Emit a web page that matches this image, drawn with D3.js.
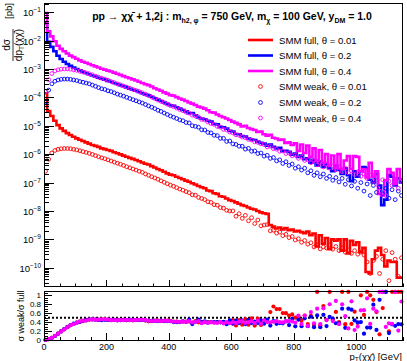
<!DOCTYPE html>
<html>
<head>
<meta charset="utf-8">
<script src="https://cdn.jsdelivr.net/npm/d3@7"></script>
<style>
body { margin: 0; background: #fff; }
svg text { font-family: "Liberation Sans", Arial, Helvetica, sans-serif; fill: #000; }
</style>
</head>
<body>
<svg id="chart" width="407" height="361"></svg>
<script>
// bins of 10 GeV from 0 to 1150 GeV
var binLow = d3.range(0, 1150, 10);
var binWidth = 10;

// dsigma/dpT [pb], SMM full (step histograms)
var fullT001 = [1.4e-4,3.3e-5,2.2e-5,1.5e-5,1.05e-5,8.1e-6,6.6e-6,5.5e-6,4.7e-6,4.1e-6,
  3.6e-6,3.2e-6,2.9e-6,2.6e-6,2.34e-6,2.1e-6,1.95e-6,1.8e-6,1.6e-6,1.5e-6,
  1.4e-6,1.3e-6,1.17e-6,1.07e-6,9.8e-7,8.9e-7,8.1e-7,7.4e-7,6.8e-7,6.2e-7,
  5.6e-7,5.1e-7,4.6e-7,4.3e-7,3.8e-7,3.4e-7,3.0e-7,2.7e-7,2.4e-7,2.1e-7,
  1.9e-7,1.8e-7,1.6e-7,1.45e-7,1.3e-7,1.17e-7,1.07e-7,9.5e-8,8.5e-8,7.6e-8,
  6.8e-8,6.3e-8,5.25e-8,5.0e-8,4.2e-8,4.0e-8,3.3e-8,3.16e-8,2.75e-8,2.4e-8,
  2.24e-8,2.0e-8,1.8e-8,1.6e-8,1.5e-8,1.32e-8,1.2e-8,1.12e-8,1.0e-8,8.9e-9,
  8.3e-9,7.9e-9,3.2e-9,2.8e-9,2.4e-9,2.6e-9,2.24e-9,2.5e-9,2.1e-9,2.2e-9,
  1.9e-9,2.0e-9,1.8e-9,1.66e-9,1.9e-9,1.4e-9,1.6e-9,5.6e-10,1.4e-9,7.1e-10,
  1.12e-9,4.5e-10,1.0e-9,8.9e-10,1.0e-9,4.0e-10,1.0e-9,3.2e-10,8.9e-10,6.3e-10,
  7.9e-10,3.55e-10,5.0e-10,7.1e-11,6.3e-11,2.0e-10,4.0e-10,5.0e-10,2.8e-10,1.12e-10,
  1.8e-10,1.6e-10,1.6e-10,4.5e-11,4.5e-11];

var fullT02 = [4.1e-2,9.1e-3,6.0e-3,4.2e-3,2.9e-3,2.24e-3,1.8e-3,1.5e-3,1.3e-3,1.12e-3,
  1.0e-3,8.9e-4,7.9e-4,7.2e-4,6.5e-4,5.9e-4,5.4e-4,4.9e-4,4.5e-4,4.2e-4,
  3.8e-4,3.55e-4,3.2e-4,2.95e-4,2.7e-4,2.45e-4,2.24e-4,2.0e-4,1.86e-4,1.7e-4,
  1.55e-4,1.4e-4,1.26e-4,1.17e-4,1.05e-4,9.3e-5,8.3e-5,7.4e-5,6.6e-5,5.9e-5,
  5.25e-5,5.0e-5,4.5e-5,4.0e-5,3.6e-5,3.2e-5,2.75e-5,2.8e-5,2.34e-5,1.95e-5,
  1.8e-5,1.7e-5,1.5e-5,1.4e-5,1.15e-5,1.12e-5,9.1e-6,8.9e-6,7.9e-6,6.6e-6,
  6.3e-6,5.1e-6,5.0e-6,4.3e-6,4.2e-6,3.55e-6,3.3e-6,3.16e-6,2.75e-6,2.5e-6,
  2.34e-6,2.0e-6,2.2e-6,1.8e-6,1.6e-6,1.66e-6,1.26e-6,1.3e-6,1.2e-6,9.5e-7,
  1.05e-6,7.9e-7,8.9e-7,6.6e-7,7.1e-7,5.0e-7,6.3e-7,4.0e-7,5.6e-7,3.55e-7,
  4.5e-7,3.2e-7,2.5e-7,4.0e-7,2.8e-7,2.0e-7,3.2e-7,1.8e-7,1.12e-7,2.5e-7,
  1.6e-7,2.5e-7,3.55e-7,3.2e-7,1.26e-7,1.0e-7,2.0e-7,7.9e-8,1.6e-8,2.5e-8,
  1.8e-7,1.6e-7,7.9e-8,1.4e-7,1.0e-7];

var fullT04 = [9.3e-2,2.1e-2,1.4e-2,9.5e-3,6.6e-3,5.1e-3,4.2e-3,3.5e-3,2.95e-3,2.6e-3,
  2.3e-3,2.0e-3,1.8e-3,1.66e-3,1.5e-3,1.35e-3,1.23e-3,1.12e-3,1.02e-3,9.5e-4,
  8.7e-4,8.1e-4,7.4e-4,6.8e-4,6.2e-4,5.6e-4,5.1e-4,4.7e-4,4.3e-4,3.9e-4,
  3.55e-4,3.2e-4,2.9e-4,2.7e-4,2.4e-4,2.1e-4,1.9e-4,1.7e-4,1.5e-4,1.35e-4,
  1.2e-4,1.15e-4,1.02e-4,9.1e-5,8.3e-5,7.4e-5,6.6e-5,6.0e-5,5.4e-5,4.7e-5,
  4.4e-5,4.0e-5,3.5e-5,3.0e-5,2.9e-5,2.5e-5,2.2e-5,2.0e-5,1.8e-5,1.6e-5,
  1.4e-5,1.26e-5,1.12e-5,9.5e-6,1.0e-5,8.3e-6,7.6e-6,7.1e-6,6.0e-6,6.3e-6,
  5.0e-6,4.5e-6,4.8e-6,3.8e-6,3.55e-6,3.16e-6,3.3e-6,2.5e-6,2.6e-6,2.1e-6,
  2.4e-6,1.3e-6,2.2e-6,1.1e-6,2.0e-6,8.0e-7,1.6e-6,6.0e-7,1.4e-6,5.0e-7,
  1.0e-6,4.0e-7,9.0e-7,3.2e-7,1.0e-6,3.0e-7,6.0e-7,8.5e-7,3.0e-7,8.5e-7,
  8.0e-7,2.5e-7,3.0e-7,1.5e-7,5.0e-7,1.6e-7,2.5e-7,4.0e-8,3.5e-8,1.2e-7,
  3.0e-7,2.2e-7,9.0e-8,3.0e-7,1.3e-7];

// dsigma/dpT [pb], SMM weak (open markers)
var weakT001 = [2.5e-7,6.6e-7,1.1e-6,1.35e-6,1.48e-6,1.55e-6,1.58e-6,1.58e-6,1.55e-6,1.48e-6,
  1.41e-6,1.32e-6,1.23e-6,1.15e-6,1.07e-6,9.8e-7,8.9e-7,8.1e-7,7.4e-7,6.9e-7,
  6.3e-7,5.75e-7,5.25e-7,4.8e-7,4.4e-7,4.0e-7,3.6e-7,3.3e-7,3.0e-7,2.75e-7,
  2.5e-7,2.3e-7,2.0e-7,1.8e-7,1.6e-7,1.45e-7,1.3e-7,1.15e-7,1.02e-7,9.1e-8,
  8.1e-8,7.4e-8,6.6e-8,5.9e-8,5.4e-8,4.8e-8,4.4e-8,3.7e-8,3.6e-8,3.0e-8,
  2.75e-8,2.5e-8,2.1e-8,2.0e-8,1.66e-8,1.6e-8,1.32e-8,1.26e-8,1.05e-8,1.0e-8,
  1.0e-8,6.5e-9,8.0e-9,5.5e-9,7.0e-9,4.5e-9,5.8e-9,3.6e-9,4.8e-9,3.0e-9,
  3.2e-9,3.3e-9,2.0e-9,2.1e-9,1.66e-9,1.8e-9,1.35e-9,1.5e-9,1.15e-9,1.26e-9,
  9.5e-10,1.05e-9,7.9e-10,9.1e-10,6.8e-10,7.6e-10,5.4e-10,6.3e-10,4.6e-10,5.4e-10,
  5.0e-10,6.3e-10,4.5e-10,5.6e-10,4.0e-10,5.0e-10,3.55e-10,4.2e-10,3.2e-10,4.0e-10,
  3.0e-10,3.55e-10,2.8e-10,1.6e-10,6.3e-11,1.8e-10,2.5e-10,6.3e-11,2.0e-10,4.0e-10,
  3.5e-11,3.4e-10,2.0e-10,5.0e-11,2.24e-10];

var weakT02 = [6.9e-5,1.8e-4,3.0e-4,3.7e-4,4.1e-4,4.3e-4,4.4e-4,4.4e-4,4.3e-4,4.1e-4,
  3.9e-4,3.6e-4,3.4e-4,3.2e-4,3.0e-4,2.7e-4,2.45e-4,2.2e-4,2.0e-4,1.9e-4,
  1.7e-4,1.6e-4,1.45e-4,1.3e-4,1.2e-4,1.1e-4,1.0e-4,9.1e-5,8.3e-5,7.6e-5,
  6.9e-5,6.3e-5,5.6e-5,5.0e-5,4.5e-5,4.0e-5,3.5e-5,3.2e-5,2.8e-5,2.5e-5,
  2.2e-5,2.0e-5,1.8e-5,1.6e-5,1.5e-5,1.3e-5,1.26e-5,1.0e-5,9.5e-6,8.9e-6,
  7.2e-6,7.1e-6,5.8e-6,5.6e-6,4.6e-6,4.5e-6,3.6e-6,3.6e-6,2.8e-6,2.9e-6,
  2.3e-6,2.2e-6,1.9e-6,1.9e-6,1.5e-6,1.6e-6,1.26e-6,1.3e-6,1.05e-6,1.1e-6,
  8.5e-7,9.1e-7,7.1e-7,7.6e-7,5.8e-7,6.3e-7,4.7e-7,5.4e-7,4.0e-7,4.5e-7,
  3.2e-7,3.6e-7,2.75e-7,3.2e-7,2.2e-7,2.6e-7,1.8e-7,2.2e-7,1.6e-7,2.0e-7,
  1.4e-7,1.66e-7,1.2e-7,1.5e-7,1.05e-7,1.4e-7,8.7e-8,1.26e-7,7.6e-8,1.1e-7,
  6.3e-8,1.0e-7,5.0e-8,8.9e-8,3.5e-8,7.9e-8,4.5e-8,7.1e-8,4.0e-8,6.3e-8,
  2.8e-8,5.6e-8,2.5e-8,5.0e-8,3.5e-8];

var weakT04 = [1.6e-4,4.2e-4,6.9e-4,8.5e-4,9.3e-4,9.8e-4,1.0e-3,1.0e-3,9.8e-4,9.3e-4,
  8.9e-4,8.3e-4,7.8e-4,7.2e-4,6.8e-4,6.2e-4,5.6e-4,5.1e-4,4.7e-4,4.4e-4,
  4.0e-4,3.6e-4,3.3e-4,3.0e-4,2.75e-4,2.5e-4,2.3e-4,2.1e-4,1.9e-4,1.75e-4,
  1.6e-4,1.45e-4,1.3e-4,1.15e-4,1.02e-4,9.1e-5,8.1e-5,7.2e-5,6.5e-5,5.75e-5,
  5.1e-5,4.7e-5,4.2e-5,3.7e-5,3.4e-5,3.0e-5,2.8e-5,2.35e-5,2.2e-5,2.0e-5,
  1.66e-5,1.6e-5,1.35e-5,1.2e-5,1.12e-5,9.5e-6,8.9e-6,7.4e-6,7.2e-6,6.0e-6,
  5.6e-6,4.8e-6,4.6e-6,4.0e-6,3.8e-6,3.3e-6,3.16e-6,2.7e-6,2.6e-6,2.3e-6,
  2.2e-6,1.8e-6,1.9e-6,1.55e-6,1.5e-6,1.26e-6,1.3e-6,1.05e-6,1.1e-6,8.7e-7,
  9.3e-7,7.1e-7,7.9e-7,6.0e-7,6.3e-7,5.0e-7,6.0e-7,4.2e-7,5.0e-7,3.55e-7,
  4.5e-7,3.2e-7,3.8e-7,2.8e-7,3.55e-7,2.4e-7,3.2e-7,2.2e-7,2.6e-7,1.9e-7,
  2.4e-7,1.66e-7,2.0e-7,1.4e-7,1.8e-7,1.12e-7,1.6e-7,5.0e-8,1.26e-7,3.5e-8,
  1.12e-7,7.9e-8,1.26e-7,6.3e-8,1.12e-7];

var seriesNames = ["0.01", "0.2", "0.4"];
var seriesColors = ["#ff0000", "#0000ff", "#ff00ff"];
var xTicks = [0, 200, 400, 600, 800, 1000];
var ratioTicks = [0, 0.2, 0.4, 0.6, 0.8, 1];

var series = [
  { theta: seriesNames[0], color: seriesColors[0], full: fullT001, weak: weakT001 },
  { theta: seriesNames[1], color: seriesColors[1], full: fullT02, weak: weakT02 },
  { theta: seriesNames[2], color: seriesColors[2], full: fullT04, weak: weakT04 }
];

var svg = d3.select("#chart");
svg.append("rect").attr("width", 407).attr("height", 361).attr("fill", "#fff");

// pad geometry
var left = 44, right = 403;
var upTop = 3, upBot = 287;
var loTop = 291, loBot = 341;

var x = d3.scaleLinear().domain([0, 1150]).range([left, right]);
var y = d3.scaleLog().domain([2.1e-11, 0.21]).range([upBot, upTop]);
var yr = d3.scaleLinear().domain([-0.023, 1.097]).range([loBot, loTop]);

var defs = svg.append("defs");
defs.append("clipPath").attr("id", "clipUp")
  .append("rect").attr("x", left).attr("y", upTop).attr("width", right - left).attr("height", upBot - upTop);

// ---------- upper pad ----------
var up = svg.append("g");

// full: step histograms
var line = d3.line()
  .x(function(d){ return x(d[0]); })
  .y(function(d){ return y(d[1]); })
  .curve(d3.curveStepAfter);

var plot = up.append("g").attr("clip-path", "url(#clipUp)");
series.forEach(function(s){
  var pts = s.full.map(function(v, i){ return [binLow[i], v]; });
  pts.push([binLow[binLow.length - 1] + binWidth, s.full[s.full.length - 1]]);
  plot.append("path")
    .attr("d", line(pts))
    .attr("fill", "none")
    .attr("stroke", s.color)
    .attr("stroke-width", 2.6);
});

// weak: open circles
series.forEach(function(s){
  plot.selectAll(null)
    .data(s.weak)
    .enter()
    .append("circle")
      .attr("cx", function(d, i){ return x(binLow[i] + binWidth / 2); })
      .attr("cy", function(d){ return y(d); })
      .attr("r", 1.9)
      .attr("fill", "none")
      .attr("stroke", s.color)
      .attr("stroke-width", 0.9);
});

// frame
up.append("rect")
  .attr("x", left + 0.5).attr("y", upTop + 0.5)
  .attr("width", right - left - 1).attr("height", upBot - upTop - 1)
  .attr("fill", "none").attr("stroke", "#000").attr("stroke-width", 1);

// log y ticks
var ticksUp = up.append("g").attr("stroke", "#000").attr("stroke-width", 1);
for (var e = -11; e <= -1; e++) {
  for (var m = 1; m <= 9; m++) {
    var v = m * Math.pow(10, e);
    if (v < y.domain()[0] || v > y.domain()[1]) continue;
    var yy = Math.round(y(v)) + 0.5;
    ticksUp.append("line")
      .attr("x1", left).attr("x2", left + (m === 1 ? 10 : 5))
      .attr("y1", yy).attr("y2", yy);
  }
}
var decades = d3.range(-10, 0);
decades.forEach(function(e){
  var t = up.append("text")
    .attr("x", 41).attr("y", y(Math.pow(10, e)) + 4)
    .attr("text-anchor", "end")
    .style("font-size", "9.5px");
  t.append("tspan").text("10");
  t.append("tspan").attr("dy", -4).style("font-size", "6.5px").text("\u2212" + (-e));
});

// x ticks on upper pad (no labels)
d3.range(0, 1151, 50).forEach(function(v){
  var xx = Math.round(x(v)) + 0.5;
  ticksUp.append("line")
    .attr("x1", xx).attr("x2", xx)
    .attr("y1", upBot).attr("y2", upBot - (v % 200 === 0 ? 7 : 3.5));
});

// title
var title = up.append("text")
  .attr("x", 232).attr("y", 20)
  .attr("text-anchor", "middle")
  .style("font-size", "10.5px").style("font-weight", "bold");
title.append("tspan").text("pp \u2192 \u03c7\u03c7\u0304 + 1,2j : m");
title.append("tspan").attr("dy", 2.5).style("font-size", "7px").text("h2, \u03c6");
title.append("tspan").attr("dy", -2.5).text(" = 750 GeV, m");
title.append("tspan").attr("dy", 2.5).style("font-size", "7px").text("\u03c7");
title.append("tspan").attr("dy", -2.5).text(" = 100 GeV, y");
title.append("tspan").attr("dy", 2.5).style("font-size", "7px").text("DM");
title.append("tspan").attr("dy", -2.5).text(" = 1.0");

// y title
var yt = up.append("g").attr("transform", "translate(13,45) rotate(-90)");
yt.append("text").attr("x", 0).attr("y", -3).attr("text-anchor", "middle")
  .style("font-size", "10px").text("d\u03c3");
yt.append("line").attr("x1", -16).attr("x2", 16).attr("y1", 0).attr("y2", 0)
  .attr("stroke", "#000").attr("stroke-width", 0.8);
var den = yt.append("text").attr("x", 0).attr("y", 9).attr("text-anchor", "middle")
  .style("font-size", "10px");
den.append("tspan").text("dp");
den.append("tspan").attr("dy", 2).style("font-size", "6.5px").text("T");
den.append("tspan").attr("dy", -2).text("(\u03c7\u03c7\u0304)");
up.append("text").attr("transform", "translate(12,11) rotate(-90)")
  .attr("text-anchor", "middle").style("font-size", "9.5px").text("[pb]");

// legend
var leg = up.append("g");
var legRows = [40, 55.5, 71, 86.5, 102.5, 118];
series.forEach(function(s, i){
  leg.append("line").attr("x1", 248).attr("x2", 273)
    .attr("y1", legRows[i]).attr("y2", legRows[i])
    .attr("stroke", s.color).attr("stroke-width", 2.6);
  leg.append("text").attr("x", 279).attr("y", legRows[i] + 3.5)
    .style("font-size", "9.6px").text("SMM full, \u03b8 = " + s.theta);
});
series.forEach(function(s, i){
  var ry = legRows[i + 3];
  leg.append("circle").attr("cx", 260.5).attr("cy", ry).attr("r", 1.9)
    .attr("fill", "none").attr("stroke", s.color).attr("stroke-width", 0.9);
  leg.append("text").attr("x", 279).attr("y", ry + 3.5)
    .style("font-size", "9.6px").text("SMM weak, \u03b8 = " + s.theta);
});

// ---------- lower pad: ratio weak/full ----------
var lo = svg.append("g");

lo.append("line")
  .attr("x1", left).attr("x2", right)
  .attr("y1", yr(0.5)).attr("y2", yr(0.5))
  .attr("stroke", "#000").attr("stroke-width", 2)
  .attr("stroke-dasharray", "2,2");

series.forEach(function(s){
  var ratio = s.full.map(function(f, i){ return s.weak[i] / f; });
  lo.selectAll(null)
    .data(ratio)
    .enter()
    .append("circle")
      .attr("cx", function(d, i){ return x(binLow[i] + binWidth / 2); })
      .attr("cy", function(d){ return yr(Math.min(d, yr.domain()[1] - 0.02)); })
      .attr("r", 2.1)
      .attr("fill", s.color);
});

lo.append("rect")
  .attr("x", left + 0.5).attr("y", loTop + 0.5)
  .attr("width", right - left - 1).attr("height", loBot - loTop - 1)
  .attr("fill", "none").attr("stroke", "#000").attr("stroke-width", 1);

var ticksLo = lo.append("g").attr("stroke", "#000").attr("stroke-width", 1);
d3.range(0, 1.09, 0.05).forEach(function(v){
  var yy = Math.round(yr(v)) + 0.5;
  var major = Math.abs(v * 5 - Math.round(v * 5)) < 1e-6;
  ticksLo.append("line")
    .attr("x1", left).attr("x2", left + (major ? 8 : 4))
    .attr("y1", yy).attr("y2", yy);
});
d3.range(0, 1151, 50).forEach(function(v){
  var xx = Math.round(x(v)) + 0.5;
  ticksLo.append("line")
    .attr("x1", xx).attr("x2", xx)
    .attr("y1", loBot).attr("y2", loBot - (v % 200 === 0 ? 8 : 4));
});

ratioTicks.forEach(function(v){
  lo.append("text")
    .attr("x", 41).attr("y", yr(v) + 3)
    .attr("text-anchor", "end")
    .style("font-size", "8px")
    .text(v);
});
xTicks.forEach(function(v){
  lo.append("text")
    .attr("x", x(v)).attr("y", 350)
    .attr("text-anchor", "middle")
    .style("font-size", "9px")
    .text(v);
});

var xt = lo.append("text").attr("x", 402).attr("y", 359.5).attr("text-anchor", "end")
  .style("font-size", "9.5px");
xt.append("tspan").text("p");
xt.append("tspan").attr("dy", 2).style("font-size", "6.5px").text("T");
xt.append("tspan").attr("dy", -2).text("(\u03c7\u03c7\u0304) [GeV]");

lo.append("text").attr("transform", "translate(24,316) rotate(-90)")
  .attr("text-anchor", "middle").style("font-size", "9px").text("\u03c3 weak/\u03c3 full");
</script>
</body>
</html>
